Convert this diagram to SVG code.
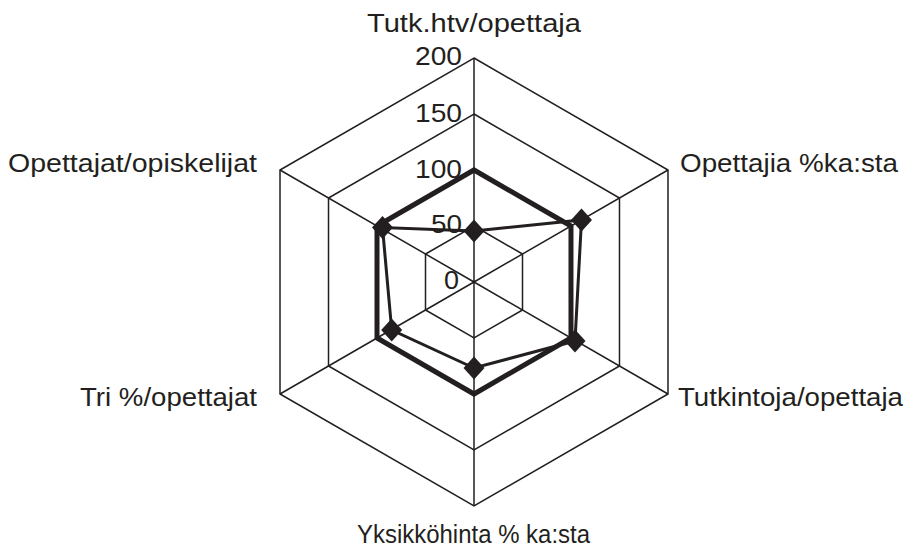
<svg xmlns="http://www.w3.org/2000/svg" width="909" height="554" viewBox="0 0 909 554">
<style>
.grid{fill:none;stroke:#231f20;stroke-width:1.5}
.lbl{font-family:"Liberation Sans",Arial,sans-serif;font-size:26px;fill:#231f20}
.tick{font-family:"Liberation Sans",Arial,sans-serif;font-size:26px;fill:#231f20;text-anchor:end}
.s1{fill:none;stroke:#231f20;stroke-width:5;stroke-linejoin:miter}
.s2{fill:none;stroke:#231f20;stroke-width:3;stroke-linejoin:miter}
</style>
<defs>
<marker id="dia" viewBox="-12 -12 24 24" markerWidth="24" markerHeight="24" refX="0" refY="0" markerUnits="userSpaceOnUse" orient="0">
<path d="M0,-11.5 L10.5,0 L0,11.5 L-10.5,0 Z" fill="#231f20"/>
</marker>
</defs>
<rect width="909" height="554" fill="#fff"/>
<g id="grid">
<polygon class="grid" points="474,58 667.99,170 667.99,394 474,506 280.01,394 280.01,170"/>
<polygon class="grid" points="474,114 619.49,198 619.49,366 474,450 328.51,366 328.51,198"/>
<polygon class="grid" points="474,170 570.99,226 570.99,338 474,394 377.01,338 377.01,226"/>
<polygon class="grid" points="474,226 522.5,254 522.5,310 474,338 425.5,310 425.5,254"/>
<path class="grid" d="M474,282 L474,58 M474,282 L667.99,170 M474,282 L667.99,394 M474,282 L474,506 M474,282 L280.01,394 M474,282 L280.01,170"/>
</g>
<g id="ticks">
<text class="tick" x="462" y="65" textLength="47" lengthAdjust="spacingAndGlyphs">200</text>
<text class="tick" x="462" y="122" textLength="47" lengthAdjust="spacingAndGlyphs">150</text>
<text class="tick" x="462" y="178" textLength="47" lengthAdjust="spacingAndGlyphs">100</text>
<text class="tick" x="462" y="233" textLength="31" lengthAdjust="spacingAndGlyphs">50</text>
<text class="tick" x="459" y="289" textLength="15" lengthAdjust="spacingAndGlyphs">0</text>
</g>
<g id="axis-labels">
<text class="lbl" x="367" y="32" textLength="214" lengthAdjust="spacingAndGlyphs">Tutk.htv/opettaja</text>
<text class="lbl" x="680" y="172" textLength="218" lengthAdjust="spacingAndGlyphs">Opettajia %ka:sta</text>
<text class="lbl" x="678" y="406" textLength="225" lengthAdjust="spacingAndGlyphs">Tutkintoja/opettaja</text>
<text class="lbl" x="357" y="543" textLength="233" lengthAdjust="spacingAndGlyphs">Yksikköhinta % ka:sta</text>
<text class="lbl" x="80" y="406" textLength="177" lengthAdjust="spacingAndGlyphs">Tri %/opettajat</text>
<text class="lbl" x="8" y="172" textLength="249" lengthAdjust="spacingAndGlyphs">Opettajat/opiskelijat</text>
</g>
<g id="series">
<polygon class="s1" points="474,170 570.99,226 570.99,338 474,394 377.01,338 377.01,226"/>
<polygon class="s2" points="474,231 581.5,220 575,341 474,368 391.7,330 382.5,227.5" marker-start="url(#dia)" marker-mid="url(#dia)"/>
</g>
</svg>
